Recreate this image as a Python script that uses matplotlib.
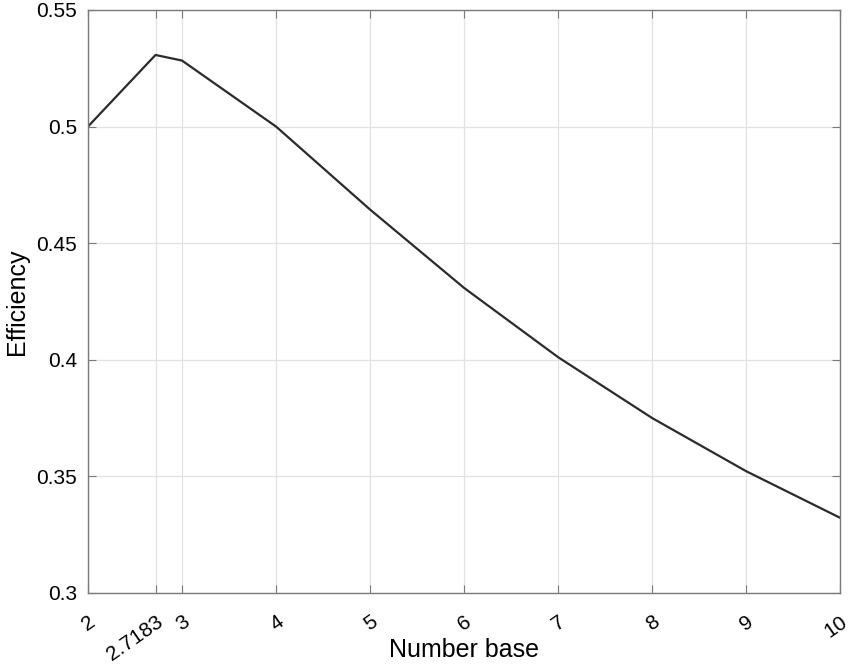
import numpy as np
import matplotlib
matplotlib.use('Agg')
import matplotlib.pyplot as plt

plt.rcParams['font.family'] = ['Liberation Sans', 'DejaVu Sans']

# number base vs efficiency
base = [2, 2.7183, 3, 4, 5, 6, 7, 8, 9, 10]
efficiency = [0.500, 0.5307, 0.5283, 0.500, 0.4644, 0.4308, 0.4011, 0.375, 0.3522, 0.3322]
xticks = [2, 2.7183, 3, 4, 5, 6, 7, 8, 9, 10]
xticklabels = ['2', '2.7183', '3', '4', '5', '6', '7', '8', '9', '10']
yticks = [0.3, 0.35, 0.4, 0.45, 0.5, 0.55]
yticklabels = ['0.3', '0.35', '0.4', '0.45', '0.5', '0.55']

fig = plt.figure(figsize=(8.5, 6.64), dpi=100)
ax = fig.add_axes([0.1035, 0.107, 0.885, 0.878])

ax.plot(base, efficiency, color='#2b2b2b', linewidth=1.6)

ax.set_xlim(2, 10)
ax.set_ylim(0.3, 0.55)
ax.set_xticks(xticks)
ax.set_xticklabels(xticklabels, rotation=35, ha='right', rotation_mode='anchor')
ax.set_yticks(yticks)
ax.set_yticklabels(yticklabels)

ax.grid(True, color='#e2e2e2', linewidth=0.9)
ax.set_axisbelow(True)
for s in ax.spines.values():
    s.set_color('#7a7a7a')
    s.set_linewidth(1.0)
ax.tick_params(direction='in', length=6, color='#7a7a7a', labelsize=15,
               top=True, right=True)
ax.tick_params(axis='x', pad=14)
ax.tick_params(axis='y', pad=8)

ax.set_xlabel('Number base', fontsize=18, va='top')
ax.xaxis.set_label_coords(0.5, -0.078)
ax.set_ylabel('Efficiency', fontsize=18, va='center')
ax.yaxis.set_label_coords(-0.094, 0.5)

fig.savefig('out.png', dpi=100)
